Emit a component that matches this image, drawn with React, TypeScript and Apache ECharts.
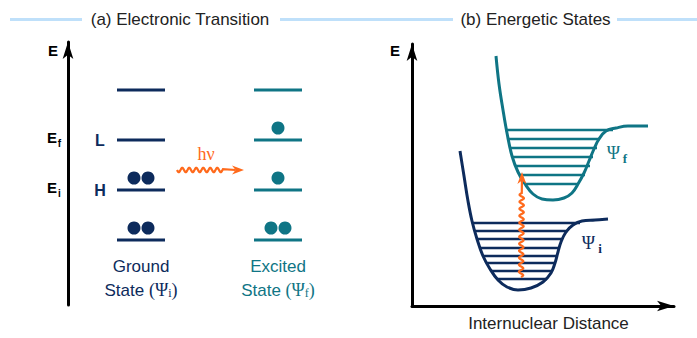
import React, { useEffect, useRef } from 'react';
import * as echarts from 'echarts';

const NAVY = '#0d2b5c';
const TEAL = '#0f7585';
const ORANGE = '#ff6a1c';
const RULE = '#bfe0fa';
const INK = '#222222';
const SANS = '"Liberation Sans", Arial, sans-serif';
const SERIF = '"Liberation Serif", "Times New Roman", serif';

// ---------- (a) Electronic Transition ----------
const orbitalLevels = [1, 2, 3, 4]; // energy of each orbital level
const groundColumn = [49, 97]; // x extent of ground-state levels
const excitedColumn = [186, 234]; // x extent of excited-state levels
const groundElectrons = [
  [66, 1], [80, 1], [66, 2], [80, 2],
];
const excitedElectrons = [
  [203, 1], [217, 1], [210, 2], [210, 3],
];
const photonA = [[109, 2.4, 176, 2.4]];

// ---------- (b) Energetic States ----------
const finalCurve = [
  [84, 250], [87, 222], [91, 196], [95, 173], [100, 150], [106, 134],
  [113, 122], [121, 112], [130, 107], [141, 106], [152, 108], [160, 113],
  [166, 122], [172, 133], [177, 145], [182, 157], [187, 167], [194, 175],
  [204, 178], [216, 180], [236, 180],
];
const initialCurve = [
  [48, 155], [52, 130], [56, 105], [60, 85], [65, 67], [71, 50], [78, 37],
  [86, 26], [95, 19], [106, 16], [119, 18], [131, 24], [139, 33], [143, 43],
  [146, 54], [149, 64], [154, 74], [161, 81], [170, 85], [183, 86], [196, 87],
];
// [energy, xStart, xEnd]
const finalLevels = [
  [176, 93, 201], [167, 95, 188], [158, 97, 185], [149, 100, 181],
  [140, 103, 178], [131, 108, 173], [122, 113, 166],
];
const initialLevels = [
  [83, 61, 168], [75, 63, 156], [67, 65, 151], [58, 68, 148],
  [50, 71, 145], [43, 75, 144], [35, 80, 140], [27, 85, 135],
];
const photonB = [[109, 29, 110, 134]];

const wavyArrow = (params: any, api: any) => {
  const a = api.coord([api.value(0), api.value(1)]);
  const b = api.coord([api.value(2), api.value(3)]);
  const dx = b[0] - a[0];
  const dy = b[1] - a[1];
  const len = Math.hypot(dx, dy);
  const ux = dx / len;
  const uy = dy / len;
  const nx = -uy;
  const ny = ux;
  const head = 12;
  const half = 4.5;
  const straight = 9;
  const wl = 7;
  const amp = 2.2;
  const waveEnd = len - head - straight;
  const pts: number[][] = [];
  for (let t = 0; t <= waveEnd; t += 0.5) {
    const o = amp * Math.sin((2 * Math.PI * t) / wl);
    pts.push([a[0] + ux * t + nx * o, a[1] + uy * t + ny * o]);
  }
  const neck = len - head * 0.7;
  pts.push([a[0] + ux * neck, a[1] + uy * neck]);
  const base = len - head;
  const headPts = [
    [b[0], b[1]],
    [a[0] + ux * base + nx * half, a[1] + uy * base + ny * half],
    [a[0] + ux * neck, a[1] + uy * neck],
    [a[0] + ux * base - nx * half, a[1] + uy * base - ny * half],
  ];
  return {
    type: 'group',
    children: [
      { type: 'polyline', shape: { points: pts }, style: { stroke: ORANGE, lineWidth: 2.2, fill: null } },
      { type: 'polygon', shape: { points: headPts }, style: { fill: ORANGE } },
    ],
  };
};

const txt = (x: number, y: number, text: string, font: string, fill: string, extra: any = {}) => ({
  type: 'text',
  x,
  y,
  silent: true,
  style: { text, font, fill, align: 'center', verticalAlign: 'middle', ...extra },
});

const rule = (x1: number, x2: number) => ({
  type: 'line',
  silent: true,
  shape: { x1, y1: 19.5, x2, y2: 19.5 },
  style: { stroke: RULE, lineWidth: 3 },
});

const stateLabel = (x: number, sub: string, color: string) =>
  txt(x, 290, `State {p|(Ψ}{s|${sub}}{p|)}`, `17px ${SANS}`, color, {
    rich: {
      p: { fontFamily: SERIF, fontSize: 18, fill: color },
      s: { fontFamily: SERIF, fontSize: 12, fill: color, verticalAlign: 'bottom', lineHeight: 6 },
    },
  });

const axisArrow = {
  show: true,
  onZero: false,
  symbol: ['none', 'arrow'],
  symbolSize: [8, 17],
  lineStyle: { color: '#000', width: 3 },
};

export default function App() {
  const ref = useRef<HTMLDivElement>(null);
  useEffect(() => {
    if (!ref.current) return;
    const chart = echarts.init(ref.current, null, { renderer: 'svg' });

    const levelSeries: any[] = [];
    orbitalLevels.forEach((e) => {
      levelSeries.push({
        type: 'line', xAxisIndex: 0, yAxisIndex: 0, symbol: 'none', silent: true,
        data: [[groundColumn[0], e], [groundColumn[1], e]],
        lineStyle: { color: NAVY, width: 3 },
      });
      levelSeries.push({
        type: 'line', xAxisIndex: 0, yAxisIndex: 0, symbol: 'none', silent: true,
        data: [[excitedColumn[0], e], [excitedColumn[1], e]],
        lineStyle: { color: TEAL, width: 3 },
      });
    });
    finalLevels.forEach(([e, x0, x1]) => {
      levelSeries.push({
        type: 'line', xAxisIndex: 1, yAxisIndex: 1, symbol: 'none', silent: true,
        data: [[x0, e], [x1, e]],
        lineStyle: { color: TEAL, width: 2.6 },
      });
    });
    initialLevels.forEach(([e, x0, x1]) => {
      levelSeries.push({
        type: 'line', xAxisIndex: 1, yAxisIndex: 1, symbol: 'none', silent: true,
        data: [[x0, e], [x1, e]],
        lineStyle: { color: NAVY, width: 2.6 },
      });
    });

    chart.setOption({
      animation: false,
      grid: [
        { left: 68, top: 42, width: 272, height: 263 },
        { left: 412, top: 44, width: 262, height: 262 },
      ],
      xAxis: [
        { gridIndex: 0, type: 'value', min: 0, max: 272, show: false },
        {
          gridIndex: 1, type: 'value', min: 0, max: 262,
          axisLine: axisArrow, axisTick: { show: false }, axisLabel: { show: false }, splitLine: { show: false },
        },
      ],
      yAxis: [
        {
          gridIndex: 0, type: 'value', min: -0.3, max: 4.96,
          axisLine: axisArrow, axisTick: { show: false }, axisLabel: { show: false }, splitLine: { show: false },
        },
        {
          gridIndex: 1, type: 'value', min: 0, max: 262,
          axisLine: axisArrow, axisTick: { show: false }, axisLabel: { show: false }, splitLine: { show: false },
        },
      ],
      series: [
        ...levelSeries,
        {
          type: 'scatter', xAxisIndex: 0, yAxisIndex: 0, silent: true,
          data: groundElectrons, symbolSize: 13, symbolOffset: [0, -12],
          itemStyle: { color: NAVY, opacity: 1 },
        },
        {
          type: 'scatter', xAxisIndex: 0, yAxisIndex: 0, silent: true,
          data: excitedElectrons, symbolSize: 13, symbolOffset: [0, -12],
          itemStyle: { color: TEAL, opacity: 1 },
        },
        {
          type: 'line', xAxisIndex: 1, yAxisIndex: 1, symbol: 'none', silent: true, smooth: 0.4,
          data: finalCurve, lineStyle: { color: TEAL, width: 3 }, z: 3,
        },
        {
          type: 'line', xAxisIndex: 1, yAxisIndex: 1, symbol: 'none', silent: true, smooth: 0.4,
          data: initialCurve, lineStyle: { color: NAVY, width: 3 }, z: 3,
        },
        {
          type: 'custom', xAxisIndex: 0, yAxisIndex: 0, silent: true, z: 5,
          renderItem: wavyArrow, data: photonA, encode: { x: [0, 2], y: [1, 3] },
        },
        {
          type: 'custom', xAxisIndex: 1, yAxisIndex: 1, silent: true, z: 5,
          renderItem: wavyArrow, data: photonB, encode: { x: [0, 2], y: [1, 3] },
        },
      ],
      graphic: [
        rule(10, 82),
        rule(280, 453),
        rule(617, 697),
        txt(180, 19, '(a) Electronic Transition', `17px ${SANS}`, INK),
        txt(535.5, 19, '(b) Energetic States', `17px ${SANS}`, INK),
        txt(53, 50, 'E', `bold 15px ${SANS}`, '#000'),
        txt(395, 50, 'E', `bold 15px ${SANS}`, '#000'),
        txt(52, 137, 'E', `bold 15px ${SANS}`, '#000'),
        txt(59.5, 143, 'f', `bold 10px ${SANS}`, '#000'),
        txt(52, 187, 'E', `bold 15px ${SANS}`, '#000'),
        txt(59.5, 193, 'i', `bold 10px ${SANS}`, '#000'),
        txt(100, 140, 'L', `bold 16px ${SANS}`, NAVY),
        txt(100, 190, 'H', `bold 16px ${SANS}`, NAVY),
        txt(206, 154, 'hν', `18px ${SERIF}`, ORANGE),
        txt(141, 266, 'Ground', `17px ${SANS}`, NAVY),
        stateLabel(141, 'i', NAVY),
        txt(278, 266, 'Excited', `17px ${SANS}`, TEAL),
        stateLabel(278, 'f', TEAL),
        txt(613.5, 152.5, 'Ψ', `18px ${SERIF}`, TEAL),
        txt(625, 158.5, 'f', `bold 13px ${SERIF}`, TEAL),
        txt(588.5, 242.5, 'Ψ', `18px ${SERIF}`, NAVY),
        txt(600, 248, 'i', `bold 13px ${SERIF}`, NAVY),
        txt(548.5, 323, 'Internuclear Distance', `17px ${SANS}`, INK),
      ],
    });
    return () => chart.dispose();
  }, []);
  return (
    <div
      ref={ref}
      style={{ position: 'fixed', left: 0, top: 0, width: 697, height: 338, background: '#fff' }}
    />
  );
}
